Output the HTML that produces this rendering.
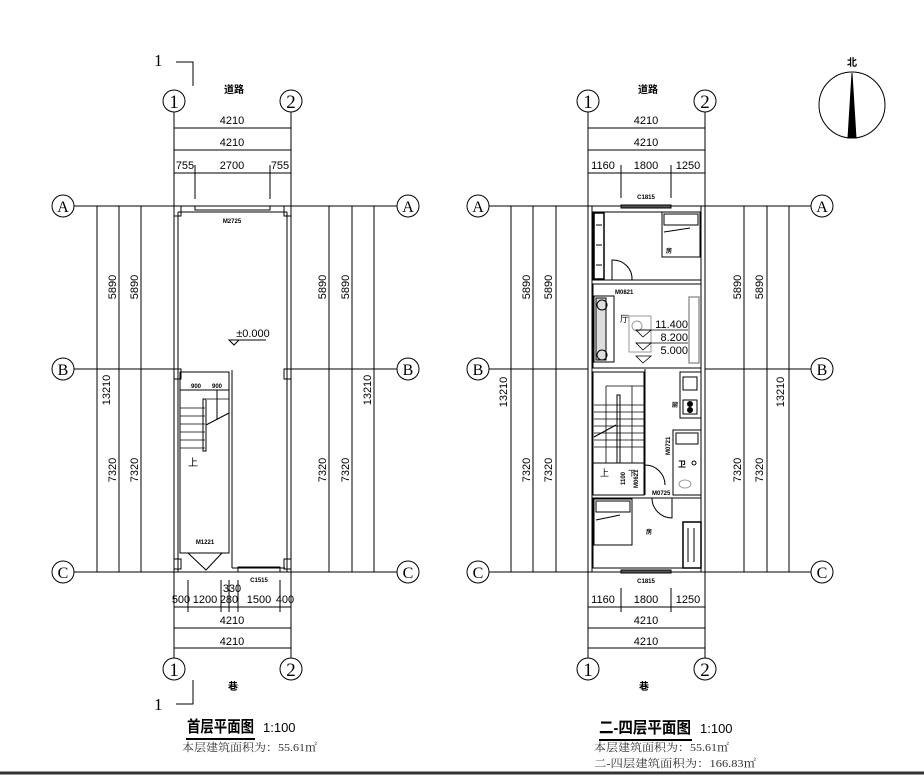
<!DOCTYPE html>
<html><head><meta charset="utf-8"><style>
html,body{margin:0;padding:0;background:#fff;}
svg{display:block;font-family:"Liberation Sans","Noto Sans CJK SC",sans-serif;}
.n{font-size:11px;fill:#000;}
.s{font-size:6px;font-weight:bold;fill:#000;}
.c{font-family:"Liberation Serif",serif;font-size:19px;fill:#000;}
.a{font-size:11px;fill:#333;font-family:'Liberation Serif','Noto Serif CJK SC',serif;}
</style></head><body>
<svg width="924" height="776" viewBox="0 0 924 776" xmlns="http://www.w3.org/2000/svg" stroke="#000" fill="none" stroke-width="1">
<!-- ================= LEFT PLAN ================= -->
<g>
<text x="154" y="66" class="c" stroke="none" style="font-size:17px">1</text>
<polyline points="176,62 193,62 193,86"/>
<text x="154" y="710" class="c" stroke="none" style="font-size:17px">1</text>
<polyline points="176,704 193,704 193,680"/>
<text x="224" y="93" stroke="none" fill="#000" style="font-size:10px;font-weight:bold">道路</text>
<text x="228" y="690" stroke="none" fill="#000" style="font-size:10px;font-weight:bold">巷</text>
<circle cx="174" cy="101" r="11"/><text x="174" y="108" class="c" stroke="none" text-anchor="middle">1</text>
<circle cx="291" cy="101" r="11"/><text x="291" y="108" class="c" stroke="none" text-anchor="middle">2</text>
<circle cx="174" cy="669" r="11"/><text x="174" y="676" class="c" stroke="none" text-anchor="middle">1</text>
<circle cx="291" cy="669" r="11"/><text x="291" y="676" class="c" stroke="none" text-anchor="middle">2</text>
<line x1="174" y1="112" x2="174" y2="658"/><line x1="291" y1="112" x2="291" y2="658"/>
<line x1="174" y1="128" x2="291" y2="128"/><text x="232" y="124" class="n" stroke="none" text-anchor="middle">4210</text>
<line x1="174" y1="150" x2="291" y2="150"/><text x="232" y="146" class="n" stroke="none" text-anchor="middle">4210</text>
<line x1="174" y1="173" x2="291" y2="173"/>
<text x="185" y="169" class="n" stroke="none" text-anchor="middle">755</text>
<text x="232" y="169" class="n" stroke="none" text-anchor="middle">2700</text>
<text x="280" y="169" class="n" stroke="none" text-anchor="middle">755</text>
<line x1="195" y1="165" x2="195" y2="199"/><line x1="270" y1="165" x2="270" y2="199"/>
<circle cx="63" cy="206" r="11"/><text x="63" y="212" class="c" stroke="none" text-anchor="middle" style="font-size:16px">A</text>
<circle cx="63" cy="369" r="11"/><text x="63" y="375" class="c" stroke="none" text-anchor="middle" style="font-size:16px">B</text>
<circle cx="63" cy="572" r="11"/><text x="63" y="578" class="c" stroke="none" text-anchor="middle" style="font-size:16px">C</text>
<circle cx="408" cy="206" r="11"/><text x="408" y="212" class="c" stroke="none" text-anchor="middle" style="font-size:16px">A</text>
<circle cx="408" cy="369" r="11"/><text x="408" y="375" class="c" stroke="none" text-anchor="middle" style="font-size:16px">B</text>
<circle cx="408" cy="572" r="11"/><text x="408" y="578" class="c" stroke="none" text-anchor="middle" style="font-size:16px">C</text>
<line x1="74" y1="206" x2="397" y2="206"/><line x1="74" y1="369" x2="397" y2="369"/><line x1="74" y1="572" x2="397" y2="572"/>
<line x1="97" y1="206" x2="97" y2="572"/><line x1="119" y1="206" x2="119" y2="572"/><line x1="141" y1="206" x2="141" y2="572"/>
<line x1="329" y1="206" x2="329" y2="572"/><line x1="352" y1="206" x2="352" y2="572"/><line x1="374" y1="206" x2="374" y2="572"/>
<g stroke="none" class="n">
<text transform="translate(116,287) rotate(-90)" text-anchor="middle">5890</text>
<text transform="translate(138,287) rotate(-90)" text-anchor="middle">5890</text>
<text transform="translate(110,390) rotate(-90)" text-anchor="middle">13210</text>
<text transform="translate(116,470) rotate(-90)" text-anchor="middle">7320</text>
<text transform="translate(138,470) rotate(-90)" text-anchor="middle">7320</text>
<text transform="translate(326,287) rotate(-90)" text-anchor="middle">5890</text>
<text transform="translate(349,287) rotate(-90)" text-anchor="middle">5890</text>
<text transform="translate(371,390) rotate(-90)" text-anchor="middle">13210</text>
<text transform="translate(326,470) rotate(-90)" text-anchor="middle">7320</text>
<text transform="translate(349,470) rotate(-90)" text-anchor="middle">7320</text>
</g>
<rect x="174" y="206" width="117" height="366" fill="#fff"/>
<line x1="178" y1="212" x2="178" y2="572"/><line x1="287" y1="212" x2="287" y2="572"/>
<line x1="178" y1="212" x2="287" y2="212"/>
<rect x="174" y="206" width="7" height="10"/><rect x="284" y="206" width="7" height="10"/>
<line x1="195" y1="206" x2="270" y2="206" stroke="#fff" stroke-width="2"/>
<line x1="193" y1="206" x2="272" y2="206" stroke-dasharray="3,2"/>
<rect x="195" y="206" width="75" height="4"/>
<text x="232" y="223" class="s" stroke="none" text-anchor="middle">M2725</text>
<polygon points="229,340 239,340 234,345"/><line x1="239" y1="340" x2="266" y2="340"/>
<text x="253" y="337" class="n" stroke="none" text-anchor="middle">±0.000</text>
<rect x="180" y="372" width="49" height="181"/>
<line x1="232" y1="370" x2="232" y2="568"/><line x1="232" y1="568" x2="285" y2="568"/>
<rect x="238" y="567" width="42" height="5"/>
<text x="259" y="582" class="s" stroke="none" text-anchor="middle">C1515</text>
<rect x="174" y="369" width="7" height="10"/><rect x="284" y="369" width="7" height="10"/>
<rect x="174" y="559" width="7" height="10"/><rect x="284" y="559" width="7" height="10"/>
<text x="191" y="388" class="s" stroke="none">900</text><text x="212" y="388" class="s" stroke="none">900</text>
<line x1="180" y1="390" x2="229" y2="390"/>
<g stroke-width="0.8">
<line x1="180" y1="408" x2="205" y2="408"/><line x1="180" y1="416" x2="205" y2="416"/><line x1="180" y1="424" x2="205" y2="424"/>
<line x1="180" y1="432" x2="205" y2="432"/><line x1="180" y1="440" x2="205" y2="440"/><line x1="180" y1="448" x2="205" y2="448"/>
<line x1="207" y1="399" x2="229" y2="399"/>
</g>
<rect x="203" y="399" width="3" height="52"/>
<line x1="206" y1="425" x2="229" y2="413"/><line x1="217" y1="390" x2="217" y2="420"/>
<text x="188" y="466" stroke="none" fill="#000" style="font-size:10px">上</text>
<text x="205" y="544" class="s" stroke="none" text-anchor="middle">M1221</text>
<polyline points="180,553 190,553"/><polyline points="221,553 229,553"/>
<polyline points="188,553 206,570 222,553"/>
<line x1="174" y1="607" x2="291" y2="607"/>
<g stroke="none" class="n">
<text x="181" y="603" text-anchor="middle">500</text><text x="205" y="603" text-anchor="middle">1200</text>
<text x="229" y="603" text-anchor="middle">280</text><text x="232" y="592" text-anchor="middle">330</text>
<text x="259" y="603" text-anchor="middle">1500</text><text x="285" y="603" text-anchor="middle">400</text>
</g>
<line x1="188" y1="580" x2="188" y2="612"/><line x1="221" y1="580" x2="221" y2="612"/><line x1="229" y1="580" x2="229" y2="612"/><line x1="238" y1="580" x2="238" y2="612"/><line x1="280" y1="580" x2="280" y2="612"/>
<line x1="174" y1="628" x2="291" y2="628"/><text x="232" y="624" class="n" stroke="none" text-anchor="middle">4210</text>
<line x1="174" y1="648" x2="291" y2="648"/><text x="232" y="645" class="n" stroke="none" text-anchor="middle">4210</text>
<text x="187" y="732" stroke="none" fill="#000" textLength="67" lengthAdjust="spacingAndGlyphs" style="font-size:16px;font-weight:bold">首层平面图</text>
<line x1="186" y1="739" x2="255" y2="739" stroke-width="2"/>
<text x="263" y="732" stroke="none" fill="#000" style="font-size:13px">1:100</text>
<text x="182" y="751" class="a" stroke="none" textLength="135" lengthAdjust="spacingAndGlyphs">本层建筑面积为：55.61㎡</text>
</g>

<!-- ================= RIGHT PLAN ================= -->
<g>
<text x="638" y="93" stroke="none" fill="#000" style="font-size:10px;font-weight:bold">道路</text>
<text x="639" y="690" stroke="none" fill="#000" style="font-size:10px;font-weight:bold">巷</text>
<circle cx="588" cy="101" r="11"/><text x="588" y="108" class="c" stroke="none" text-anchor="middle">1</text>
<circle cx="705" cy="101" r="11"/><text x="705" y="108" class="c" stroke="none" text-anchor="middle">2</text>
<circle cx="588" cy="669" r="11"/><text x="588" y="676" class="c" stroke="none" text-anchor="middle">1</text>
<circle cx="705" cy="669" r="11"/><text x="705" y="676" class="c" stroke="none" text-anchor="middle">2</text>
<line x1="588" y1="112" x2="588" y2="658"/><line x1="705" y1="112" x2="705" y2="658"/>
<line x1="588" y1="128" x2="705" y2="128"/><text x="646" y="124" class="n" stroke="none" text-anchor="middle">4210</text>
<line x1="588" y1="150" x2="705" y2="150"/><text x="646" y="146" class="n" stroke="none" text-anchor="middle">4210</text>
<line x1="588" y1="173" x2="705" y2="173"/>
<text x="603" y="169" class="n" stroke="none" text-anchor="middle">1160</text>
<text x="646" y="169" class="n" stroke="none" text-anchor="middle">1800</text>
<text x="688" y="169" class="n" stroke="none" text-anchor="middle">1250</text>
<line x1="621" y1="165" x2="621" y2="198"/><line x1="671" y1="165" x2="671" y2="198"/>
<circle cx="478" cy="206" r="11"/><text x="478" y="212" class="c" stroke="none" text-anchor="middle" style="font-size:16px">A</text>
<circle cx="478" cy="369" r="11"/><text x="478" y="375" class="c" stroke="none" text-anchor="middle" style="font-size:16px">B</text>
<circle cx="478" cy="572" r="11"/><text x="478" y="578" class="c" stroke="none" text-anchor="middle" style="font-size:16px">C</text>
<circle cx="822" cy="206" r="11"/><text x="822" y="212" class="c" stroke="none" text-anchor="middle" style="font-size:16px">A</text>
<circle cx="822" cy="369" r="11"/><text x="822" y="375" class="c" stroke="none" text-anchor="middle" style="font-size:16px">B</text>
<circle cx="822" cy="572" r="11"/><text x="822" y="578" class="c" stroke="none" text-anchor="middle" style="font-size:16px">C</text>
<line x1="489" y1="206" x2="811" y2="206"/><line x1="489" y1="369" x2="811" y2="369"/><line x1="489" y1="572" x2="811" y2="572"/>
<line x1="511" y1="206" x2="511" y2="572"/><line x1="533" y1="206" x2="533" y2="572"/><line x1="556" y1="206" x2="556" y2="572"/>
<line x1="744" y1="206" x2="744" y2="572"/><line x1="767" y1="206" x2="767" y2="572"/><line x1="789" y1="206" x2="789" y2="572"/>
<g stroke="none" class="n">
<text transform="translate(530,287) rotate(-90)" text-anchor="middle">5890</text>
<text transform="translate(552,287) rotate(-90)" text-anchor="middle">5890</text>
<text transform="translate(507,392) rotate(-90)" text-anchor="middle">13210</text>
<text transform="translate(530,470) rotate(-90)" text-anchor="middle">7320</text>
<text transform="translate(552,470) rotate(-90)" text-anchor="middle">7320</text>
<text transform="translate(741,287) rotate(-90)" text-anchor="middle">5890</text>
<text transform="translate(763,287) rotate(-90)" text-anchor="middle">5890</text>
<text transform="translate(784,392) rotate(-90)" text-anchor="middle">13210</text>
<text transform="translate(741,470) rotate(-90)" text-anchor="middle">7320</text>
<text transform="translate(763,470) rotate(-90)" text-anchor="middle">7320</text>
</g>
<rect x="588" y="206" width="117" height="366" fill="#fff"/>
<line x1="592" y1="206" x2="592" y2="572"/><line x1="701" y1="206" x2="701" y2="572"/>
<rect x="621" y="205" width="50" height="3" fill="#555"/>
<rect x="621" y="570" width="50" height="3" fill="#555"/>
<text x="646" y="199" class="s" stroke="none" text-anchor="middle">C1815</text>
<text x="646" y="583" class="s" stroke="none" text-anchor="middle">C1815</text>
<rect x="593" y="212" width="108" height="68"/>
<rect x="594" y="213" width="10" height="66" stroke-width="1.5"/>
<line x1="596" y1="225" x2="602" y2="225"/><line x1="596" y1="245" x2="602" y2="245"/><line x1="596" y1="265" x2="602" y2="265"/>
<rect x="662" y="212" width="38" height="45"/><rect x="664" y="214" width="34" height="11"/>
<line x1="664" y1="232" x2="690" y2="228"/>
<text x="666" y="253" class="s" stroke="none">房</text>
<path d="M612,280 L612,260 A19,19 0 0 1 632,280"/>
<text x="615" y="294" class="s" stroke="none">M0821</text>
<rect x="593" y="284" width="108" height="84"/>
<rect x="594" y="296" width="20" height="66"/><rect x="596" y="298" width="10" height="62" fill="#ddd"/>
<circle cx="602" cy="305" r="5"/><circle cx="602" cy="355" r="5"/>
<text x="620" y="322" class="n" stroke="none" style="font-size:9px">厅</text>
<rect x="629" y="316" width="22" height="36" stroke="#999"/>
<circle cx="637" cy="326" r="5" stroke="#999"/>
<rect x="689" y="297" width="10" height="66" stroke="#999" stroke-width="1.5"/>
<g stroke-width="0.8">
<line x1="636" y1="330" x2="688" y2="330"/><polygon points="636,330 651,330 643,337"/>
<line x1="636" y1="343" x2="688" y2="343"/><polygon points="636,343 651,343 643,350"/>
<polygon points="636,356 651,356 643,363"/>
</g>
<g stroke="none" class="n">
<text x="688" y="328" text-anchor="end">11.400</text>
<text x="688" y="341" text-anchor="end">8.200</text>
<text x="688" y="354" text-anchor="end">5.000</text>
</g>
<rect x="593" y="372" width="51" height="123"/>
<line x1="645" y1="369" x2="645" y2="495"/>
<line x1="593" y1="463" x2="644" y2="463"/>
<g stroke-width="0.8">
<line x1="594" y1="405" x2="644" y2="405"/><line x1="594" y1="412" x2="644" y2="412"/><line x1="594" y1="419" x2="644" y2="419"/>
<line x1="594" y1="426" x2="644" y2="426"/><line x1="594" y1="433" x2="644" y2="433"/><line x1="594" y1="440" x2="644" y2="440"/>
<line x1="594" y1="447" x2="644" y2="447"/><line x1="606" y1="386" x2="644" y2="386"/>
<line x1="606" y1="386" x2="606" y2="463"/><line x1="632" y1="386" x2="632" y2="463"/>
</g>
<rect x="617" y="395" width="3" height="68"/>
<line x1="594" y1="437" x2="616" y2="425"/>
<text x="600" y="476" class="n" stroke="none" style="font-size:9px">上</text>
<text x="628" y="476" class="n" stroke="none" style="font-size:8px">下</text>
<text x="625" y="485" class="s" stroke="none" transform="rotate(-90 625 485)">1100</text>
<text x="638" y="488" class="s" stroke="none" transform="rotate(-90 638 488)">M0621</text>
<path d="M645,465 A20,20 0 0 1 665,485"/>
<rect x="680" y="372" width="21" height="46"/>
<rect x="683" y="377" width="14" height="13"/><rect x="683" y="400" width="14" height="14"/>
<circle cx="690" cy="404" r="2.5" fill="#000"/><circle cx="690" cy="410" r="2.5" fill="#000"/>
<text x="672" y="407" class="s" stroke="none">厨</text>
<rect x="673" y="430" width="28" height="65"/>
<rect x="676" y="433" width="22" height="11"/>
<text x="678" y="467" class="s" stroke="none" style="font-size:8px">卫</text>
<circle cx="694" cy="463" r="2"/>
<ellipse cx="685" cy="484" rx="6" ry="4" stroke="#999"/>
<text x="670" y="455" class="s" stroke="none" transform="rotate(-90 670 455)">M0721</text>
<text x="652" y="495" class="s" stroke="none">M0725</text>
<path d="M652,498 A20,20 0 0 0 672,518 L672,498"/>
<rect x="593" y="498" width="108" height="70"/>
<rect x="594" y="499" width="38" height="46"/><rect x="596" y="501" width="34" height="11"/>
<line x1="596" y1="520" x2="620" y2="515"/>
<text x="646" y="534" class="s" stroke="none">房</text>
<rect x="683" y="522" width="18" height="46" stroke-width="1.5"/>
<line x1="688" y1="528" x2="688" y2="562"/><line x1="694" y1="528" x2="694" y2="562"/>
<line x1="588" y1="607" x2="705" y2="607"/>
<text x="603" y="603" class="n" stroke="none" text-anchor="middle">1160</text>
<text x="646" y="603" class="n" stroke="none" text-anchor="middle">1800</text>
<text x="688" y="603" class="n" stroke="none" text-anchor="middle">1250</text>
<line x1="621" y1="588" x2="621" y2="612"/><line x1="671" y1="588" x2="671" y2="612"/>
<line x1="588" y1="628" x2="705" y2="628"/><text x="646" y="624" class="n" stroke="none" text-anchor="middle">4210</text>
<line x1="588" y1="648" x2="705" y2="648"/><text x="646" y="645" class="n" stroke="none" text-anchor="middle">4210</text>
<text x="599" y="733" stroke="none" fill="#000" textLength="92" lengthAdjust="spacingAndGlyphs" style="font-size:16px;font-weight:bold">二-四层平面图</text>
<line x1="599" y1="740" x2="692" y2="740" stroke-width="2"/>
<text x="700" y="733" stroke="none" fill="#000" style="font-size:13px">1:100</text>
<text x="594" y="751" class="a" stroke="none" textLength="135" lengthAdjust="spacingAndGlyphs">本层建筑面积为：55.61㎡</text>
<text x="594" y="767" class="a" stroke="none" textLength="162" lengthAdjust="spacingAndGlyphs">二-四层建筑面积为：166.83㎡</text>
</g>

<circle cx="852" cy="105" r="33"/>
<polygon points="852,73 848,138 856,138" fill="#000"/>
<text x="852" y="66" stroke="none" fill="#000" text-anchor="middle" style="font-size:10px;font-weight:bold">北</text>
<line x1="0" y1="773" x2="924" y2="773" stroke-width="3" stroke="#333"/>
</svg>
</body></html>
